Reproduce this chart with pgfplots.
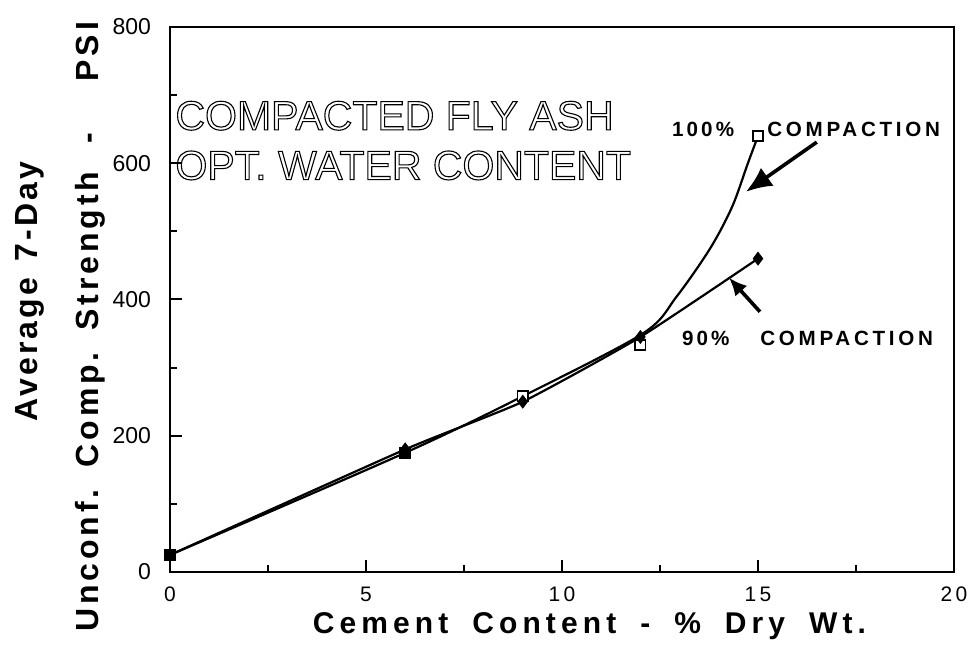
\documentclass[border=0pt]{standalone}
\usepackage{pgfplots}
\pgfplotsset{compat=1.18}
\usepackage{fontspec}
\setmainfont{Liberation Sans}
\usetikzlibrary{arrows.meta}
\newcommand\outlined[1]{\special{pdf:literal direct 0.55 w 1 Tr}#1\special{pdf:literal direct 0 Tr}}
\begin{document}
\begin{tikzpicture}
\path[use as bounding box] (-85pt,-42pt) rectangle (400.5pt,286pt);
\begin{axis}[
  scale only axis, width=392pt, height=272.5pt,
  xmin=0, xmax=20, ymin=0, ymax=800,
  xtick={0,5,10,15,20}, ytick={0,200,400,600,800},
  minor x tick num=1, minor y tick num=1,
  xtick pos=bottom, ytick pos=left,
  tick align=inside,
  major tick length=6pt, minor tick length=3.5pt,
  every tick/.style={black, line width=1pt},
  axis line style={line width=1.4pt},
  /pgf/number format/assume math mode=true,
  xticklabel style={font=\fontsize{10.5}{12}\selectfont\addfontfeature{LetterSpace=15}, yshift=-4pt},
  yticklabel style={font=\fontsize{11.5}{12}\selectfont, xshift=-6pt},
  xlabel={Cement\hspace{12pt}Content\hspace{12pt}-\hspace{12pt}\%\hspace{12pt}Dry\hspace{12pt}Wt.},
  xlabel style={at={(axis description cs:0.535,0)}, anchor=base, yshift=-31pt,
    font=\bfseries\fontsize{15}{16}\selectfont\addfontfeature{LetterSpace=17}},
  ylabel={{\rule{35pt}{0pt}\addfontfeature{LetterSpace=10}Average\hspace{8pt}7-Day}\\Unconf.\hspace{11pt}Comp.\hspace{11pt}Strength\hspace{14pt}-\hspace{26pt}PSI},
  ylabel style={at={(axis description cs:-0.082,0.45)}, anchor=south, align=center, inner sep=0pt,
    font=\bfseries\fontsize{16}{30.5}\selectfont\addfontfeature{LetterSpace=12}},
]
% 100% compaction: fitted curve
\addplot[line width=1.1pt, smooth, tension=0.5]
  coordinates {(0,25) (6,175) (9,258) (12.06,350) (12.92,404) (13.78,475) (14.34,536) (14.73,598) (15,640)};
% 90% compaction: fitted line
\addplot[line width=1.1pt, smooth, tension=0.3]
  coordinates {(0,25) (6,180) (9,250) (12,345) (15,460)};
% data points
\addplot[only marks, mark=square*, mark size=2.6pt, mark options={fill=white, line width=0.9pt}]
  coordinates {(0,25) (6,175) (9,258) (12,333) (15,640)};
\addplot[only marks, mark=diamond*, mark size=3.2pt, mark options={fill=black}]
  coordinates {(0,25) (6,180) (9,250) (12,345) (15,460)};
\addplot[only marks, mark=square*, mark size=2.8pt, mark options={fill=black}]
  coordinates {(0,25) (6,175)};

\draw[line width=1.8pt, -{Latex[length=13pt,width=11pt]}] (axis cs:16.5,631) -- (axis cs:14.69,558);
\draw[line width=1.8pt, -{Latex[length=9pt,width=8pt]}] (axis cs:15.05,382) -- (axis cs:14.26,432);

\node[anchor=base, font=\bfseries\fontsize{10.3}{12}\selectfont\addfontfeature{LetterSpace=15}] at (axis cs:13.6,639) {100\%};
\node[anchor=base west, inner sep=0pt, font=\bfseries\fontsize{10.3}{12}\selectfont\addfontfeature{LetterSpace=18}] at (axis cs:15.23,639) {COMPACTION};
\node[anchor=base, font=\bfseries\fontsize{10.3}{12}\selectfont\addfontfeature{LetterSpace=15}] at (axis cs:13.67,333) {90\%};
\node[anchor=base west, inner sep=0pt, font=\bfseries\fontsize{10.3}{12}\selectfont\addfontfeature{LetterSpace=18}] at (axis cs:15.05,333) {COMPACTION};

\node[anchor=base west, inner sep=0pt, font=\fontsize{20.5}{25}\selectfont] at (axis cs:0.13,649)
  {\outlined{COMPACTED FLY ASH}};
\node[anchor=base west, inner sep=0pt, font=\fontsize{20.5}{25}\selectfont] at (axis cs:0.13,576)
  {\outlined{OPT. WATER CONTENT}};
\end{axis}
\end{tikzpicture}
\end{document}
